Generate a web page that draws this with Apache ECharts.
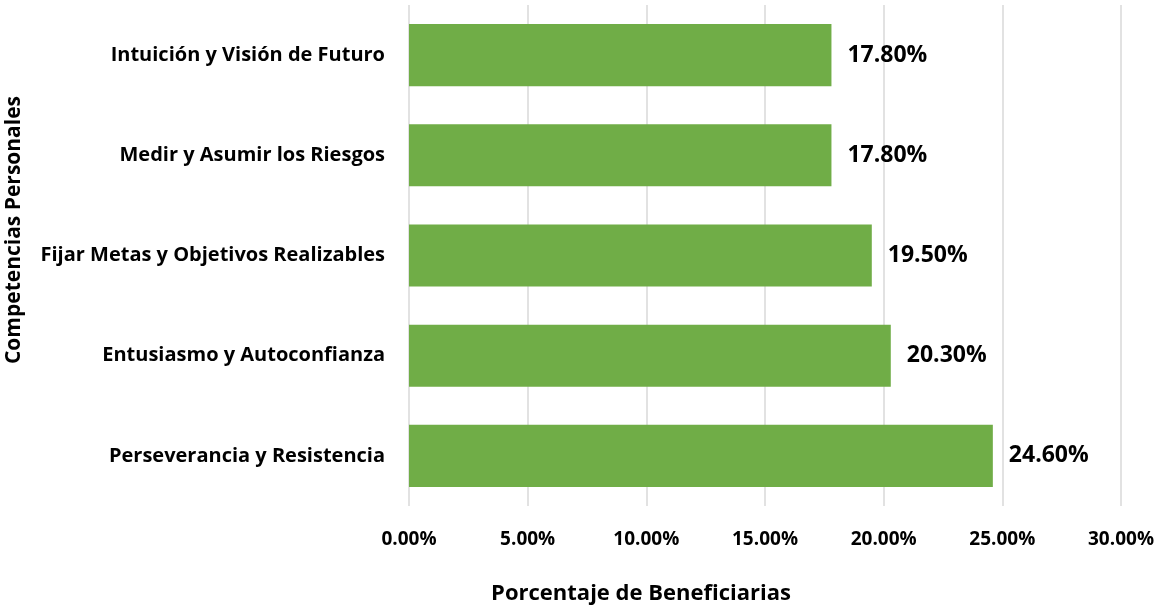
<!DOCTYPE html>
<html>
<head>
<meta charset="utf-8">
<script src="https://cdn.jsdelivr.net/npm/echarts@6/dist/echarts.min.js"></script>
<style>
  html, body { margin: 0; padding: 0; background: #fff; }
  #main { width: 1159px; height: 606px; }
</style>
</head>
<body>
<div id="main"></div>
<script>
// datos (de abajo hacia arriba)
var categorias = [
    'Perseverancia y Resistencia',
    'Entusiasmo y Autoconfianza',
    'Fijar Metas y Objetivos Realizables',
    'Medir y Asumir los Riesgos',
    'Intuición y Visión de Futuro'
];
var valores = [24.6, 20.3, 19.5, 17.8, 17.8];
var ticksX = [0, 5, 10, 15, 20, 25, 30];

var fuente = 'Open Sans';
var myChart = echarts.init(document.getElementById('main'));

var option = {
    animation: false,
    grid: {
        left: 409,
        right: 38,
        top: 5,
        bottom: 100
    },
    xAxis: {
        type: 'value',
        min: ticksX[0],
        max: ticksX[ticksX.length - 1],
        interval: 5,
        axisLine: { show: false },
        axisTick: { show: false },
        splitLine: {
            show: true,
            lineStyle: { color: '#d9d9d9', width: 1.5 }
        },
        axisLabel: {
            margin: 24,
            color: '#000',
            fontFamily: fuente,
            fontWeight: 'bold',
            fontSize: 19,
            formatter: function (v) { return v.toFixed(2) + '%'; }
        }
    },
    yAxis: {
        type: 'category',
        data: categorias,
        axisLine: { show: false },
        axisTick: { show: false },
        axisLabel: {
            margin: 24,
            color: '#000',
            fontFamily: fuente,
            fontWeight: 'bold',
            fontSize: 20
        }
    },
    series: [{
        type: 'bar',
        data: valores,
        barCategoryGap: '38%',
        itemStyle: { color: '#70ad47' },
        label: {
            show: true,
            position: 'right',
            distance: 16,
            color: '#000',
            fontFamily: fuente,
            fontWeight: 'bold',
            fontSize: 23,
            formatter: function (p) { return p.value.toFixed(2) + '%'; }
        }
    }],
    graphic: [
        {
            type: 'text',
            x: 641,
            y: 594,
            style: {
                text: 'Porcentaje de Beneficiarias',
                fill: '#000',
                font: 'bold 22px ' + fuente,
                align: 'center',
                verticalAlign: 'middle'
            }
        },
        {
            type: 'text',
            x: 14,
            y: 230,
            rotation: Math.PI / 2,
            style: {
                text: 'Competencias Personales',
                fill: '#000',
                font: 'bold 21px ' + fuente,
                align: 'center',
                verticalAlign: 'middle'
            }
        }
    ]
};

myChart.setOption(option);
</script>
</body>
</html>
